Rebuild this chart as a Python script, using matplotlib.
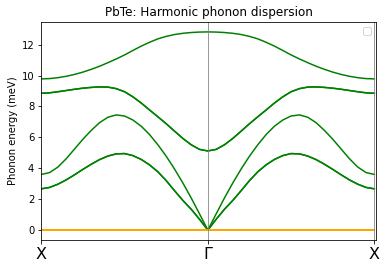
import matplotlib
matplotlib.use("Agg")
import matplotlib.pyplot as plt
import numpy as np

# path coordinate X -> Gamma (0..1), sampled every 0.05
q_half = [0.00, 0.05, 0.10, 0.15, 0.20, 0.25, 0.30, 0.35, 0.40, 0.45, 0.50,
          0.55, 0.60, 0.65, 0.70, 0.75, 0.80, 0.85, 0.90, 0.95, 1.00]

# phonon energies (meV) along X -> Gamma
ta = [2.67, 2.76, 2.97, 3.25, 3.58, 3.93, 4.26, 4.56, 4.79, 4.93, 4.95,
      4.82, 4.57, 4.22, 3.77, 3.20, 2.55, 1.92, 1.35, 0.70, 0.00]
la = [3.60, 3.72, 4.08, 4.62, 5.25, 5.88, 6.45, 6.95, 7.30, 7.45, 7.38,
      7.12, 6.72, 6.18, 5.52, 4.78, 3.95, 3.05, 2.08, 1.05, 0.00]
to = [8.85, 8.88, 8.95, 9.03, 9.11, 9.18, 9.23, 9.26, 9.25, 9.15, 8.95,
      8.62, 8.22, 7.77, 7.33, 6.88, 6.40, 5.93, 5.52, 5.22, 5.12]
lo = [9.78, 9.80, 9.86, 9.95, 10.07, 10.22, 10.40, 10.60, 10.83, 11.07, 11.33,
      11.62, 11.90, 12.15, 12.37, 12.53, 12.65, 12.73, 12.78, 12.81, 12.82]

tick_pos = [0, 1, 2]
tick_labels = ["X", "\u0393", "X"]

# full path X -> Gamma -> X (dispersion is symmetric)
q = np.concatenate([q_half, 2 - np.array(q_half[::-1][1:])])
bands = []
for b in [ta, ta, la, to, to, lo]:
    bands.append(np.concatenate([b, b[::-1][1:]]))

fig = plt.figure(figsize=(386 / 72, 270 / 72), dpi=72)
ax = fig.add_axes([41.3 / 386, 30 / 270, 334.4 / 386, 218 / 270])

for b in bands:
    ax.plot(q, b, color="green", lw=1.5)
ax.plot(q, np.zeros_like(q), color="orange", lw=2)

ax.axvline(1, color="gray", lw=0.8)
ax.axvline(2, color="gray", lw=0.8)

ax.set_xlim(0, 2.008)
ax.set_xticks(tick_pos)
ax.set_xticklabels(tick_labels, fontsize=16)
ax.set_ylabel("Phonon energy (meV)")
ax.set_title("PbTe: Harmonic phonon dispersion")
ax.legend()

fig.savefig("out.png", dpi=72)
